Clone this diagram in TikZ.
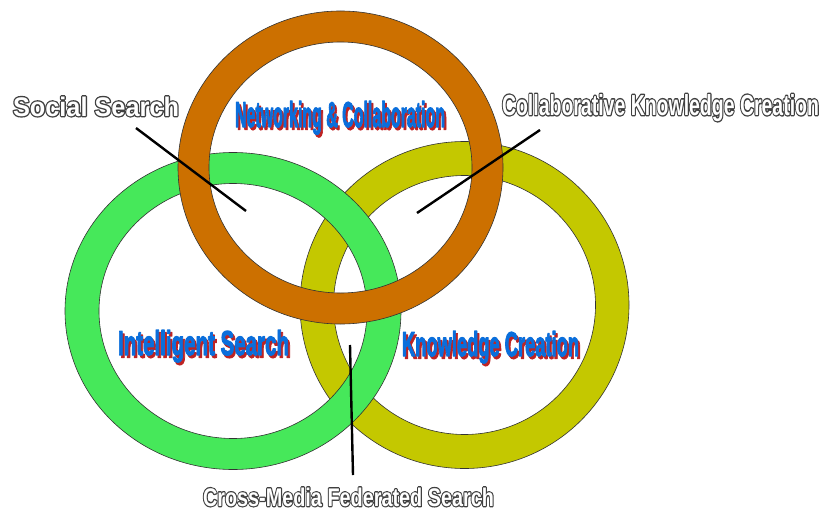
\documentclass[tikz,border=0pt]{standalone}
\usepackage{fontspec}
\usepackage{graphicx}
\setmainfont{Liberation Sans}
\definecolor{ringO}{RGB}{204,112,0}
\definecolor{ringG}{RGB}{70,232,90}
\definecolor{ringY}{RGB}{196,200,0}
\definecolor{shred}{RGB}{190,35,35}
\definecolor{tblue}{RGB}{10,110,220}
\newcommand\offcp[3]{\makebox[0pt][l]{\hspace*{#1}\raisebox{#2}{#3}}}
% outlined white text: dark stroke-only copy under a white filled copy
\newcommand\olbl[1]{\makebox[0pt][l]{{\color{black}\special{pdf:code q 1 Tr 2.0 w 1 j 1 J 0.25 0.25 0.25 RG}#1\special{pdf:code Q}}}{\color{white}#1}}
% blue heavy text with red drop shadow
\newcommand\bluelbl[1]{\offcp{2pt}{-2.6pt}{{\color{shred}\special{pdf:code q 2 Tr 0.7 w 1 j 0.75 0.14 0.14 RG}#1\special{pdf:code Q}}}{\color{tblue}\special{pdf:code q 2 Tr 0.7 w 1 j 0.04 0.43 0.86 RG}#1\special{pdf:code Q}}}
\tikzset{
  ring/.style={even odd rule, draw=black!80, line width=0.6pt},
  lbl/.style={anchor=base west, inner sep=0pt, outer sep=0pt, font=\bfseries\fontsize{20}{24}\selectfont},
  pointer/.style={draw=black, line width=2.4pt}
}
\begin{document}
\begin{tikzpicture}[x=1pt,y=-1pt]
\useasboundingbox (0,0) rectangle (824,511);
\fill[white] (0,0) rectangle (824,511);
% rings
\coordinate (cY) at (464.5,305);
\coordinate (cG) at (233,311);
\coordinate (cO) at (340.5,167.5);
\path[ring, fill=ringY] (cY) ellipse (164.5pt and 163.5pt) (cY) ellipse (131pt and 129.5pt);
\path[ring, fill=ringG] (cG) ellipse (168pt and 158.5pt) (cG) ellipse (134pt and 127.5pt);
\path[ring, fill=ringO] (cO) ellipse (162.5pt and 156.5pt) (cO) ellipse (131.5pt and 125.5pt);
% pointer ends
\coordinate (s1) at (136,128);
\coordinate (s2) at (246,211);
\coordinate (k1) at (540,130);
\coordinate (k2) at (417,213);
\coordinate (m1) at (350,345);
\coordinate (m2) at (353,475);
\draw[pointer] (s1) -- (s2);
\draw[pointer] (k1) -- (k2);
\draw[pointer] (m1) -- (m2);
% outlined labels
\node[lbl] (soc) at (13,116) {\olbl{\resizebox{166pt}{19.5pt}{Social Search}}};
\node[lbl] (ckc) at (502,115) {\olbl{\resizebox{317pt}{21pt}{Collaborative Knowledge Creation}}};
\node[lbl] (cmf) at (203,506) {\olbl{\resizebox{291pt}{18.5pt}{Cross-Media Federated Search}}};
% blue labels
\node[lbl] (net) at (235,127) {\bluelbl{\resizebox{210pt}{26pt}{Networking \& Collaboration}}};
\node[lbl] (int) at (118,355) {\bluelbl{\resizebox{171pt}{25pt}{Intelligent Search}}};
\node[lbl] (kno) at (402,356) {\bluelbl{\resizebox{177pt}{25pt}{Knowledge Creation}}};
\end{tikzpicture}
\end{document}
